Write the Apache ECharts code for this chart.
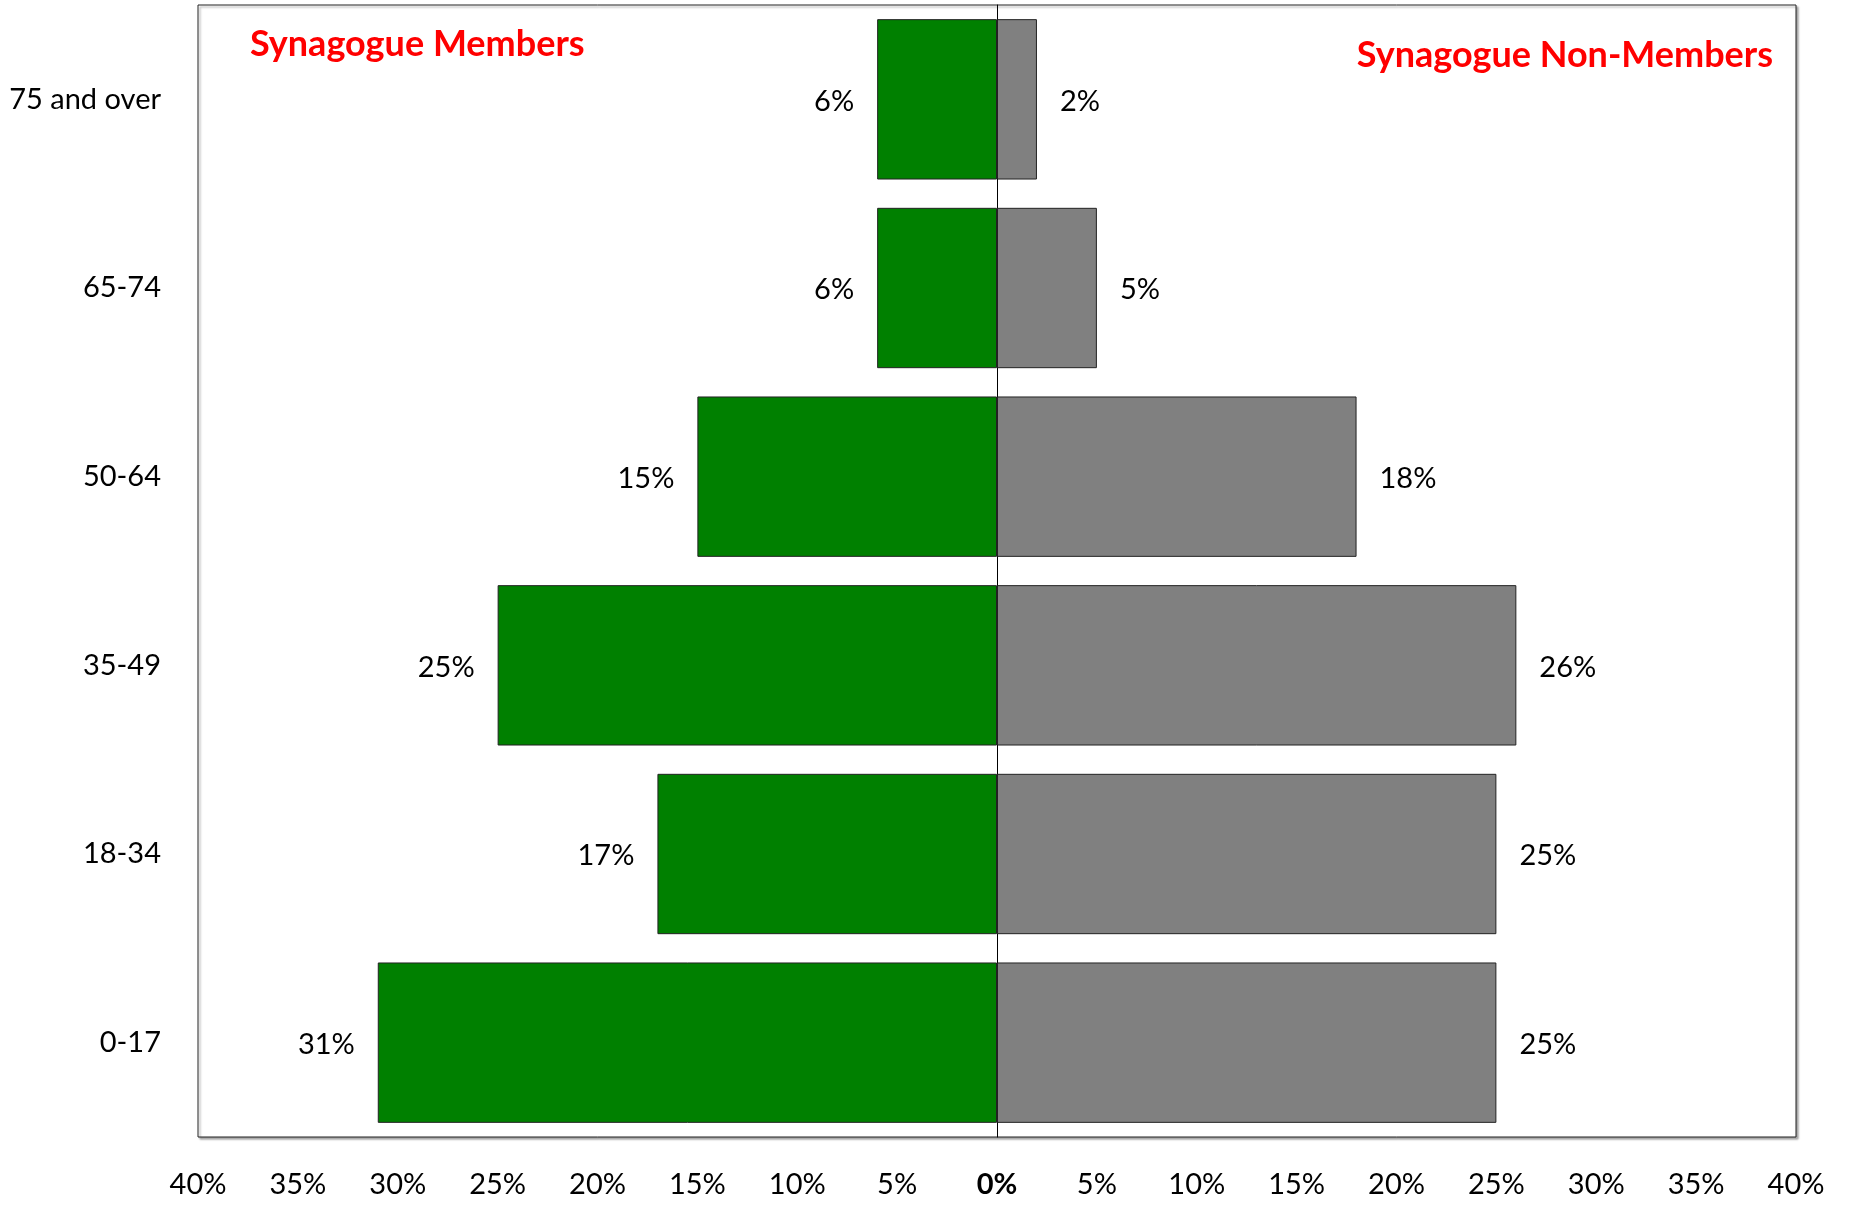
<!DOCTYPE html>
<html>
<head>
<meta charset="utf-8">
<script src="https://cdn.jsdelivr.net/npm/echarts@6/dist/echarts.min.js"></script>
<style>
  html, body { margin: 0; padding: 0; background: #fff; }
  #main { width: 1849px; height: 1209px; }
</style>
</head>
<body>
<div id="main"></div>
<script>
// age groups, bottom to top
const ageGroups = ['0-17', '18-34', '35-49', '50-64', '65-74', '75 and over']
// percent of each group
const members = [31, 17, 25, 15, 6, 6]
const nonMembers = [25, 25, 26, 18, 5, 2]
const xTicks = [-40, -35, -30, -25, -20, -15, -10, -5, 0, 5, 10, 15, 20, 25, 30, 35, 40]

const fontFam = 'Lato, "Open Sans", sans-serif'
const chart = echarts.init(document.getElementById('main'))

const option = {
  animation: false,
  title: [
    {
      text: 'Synagogue Members',
      left: 245, top: 21,
      textStyle: { color: '#ff0000', fontSize: 36, fontWeight: 'bold', fontFamily: fontFam }
    },
    {
      text: 'Synagogue Non-Members',
      right: 71, top: 32,
      textStyle: { color: '#ff0000', fontSize: 36, fontWeight: 'bold', fontFamily: fontFam }
    }
  ],
  grid: {
    left: 198, right: 53, top: 5, bottom: 72,
    show: true, borderColor: '#222', borderWidth: 1,
    shadowColor: 'rgba(0,0,0,0.35)', shadowOffsetX: 2, shadowOffsetY: 2, shadowBlur: 2,
    backgroundColor: '#fff'
  },
  xAxis: {
    type: 'value',
    min: xTicks[0], max: xTicks[xTicks.length - 1], interval: 5,
    splitLine: { show: false },
    axisLine: { show: false },
    axisTick: { show: false },
    axisLabel: {
      margin: 33,
      fontSize: 29, color: '#000', fontFamily: fontFam,
      formatter: v => v === 0 ? '{b|0%}' : Math.abs(v) + '%',
      rich: { b: { fontSize: 29, fontWeight: 'bold', color: '#000', fontFamily: fontFam } }
    }
  },
  yAxis: {
    type: 'category',
    data: ageGroups,
    axisLine: { onZero: true, lineStyle: { color: '#000', width: 1 } },
    axisTick: { show: false },
    axisLabel: {
      margin: 37,
      fontSize: 29, color: '#000', fontFamily: fontFam
    }
  },
  series: [
    {
      name: 'Synagogue Members',
      type: 'bar',
      stack: 'total',
      barCategoryGap: '15%',
      data: members.map(v => -v),
      itemStyle: { color: '#008000', borderColor: '#222', borderWidth: 1 },
      label: {
        show: true, position: 'left', distance: 23, offset: [0, 2],
        fontSize: 29, color: '#000', fontFamily: fontFam,
        formatter: p => Math.abs(p.value) + '%'
      }
    },
    {
      name: 'Synagogue Non-Members',
      type: 'bar',
      stack: 'total',
      barCategoryGap: '15%',
      data: nonMembers,
      itemStyle: { color: '#808080', borderColor: '#222', borderWidth: 1 },
      label: {
        show: true, position: 'right', distance: 23, offset: [0, 2],
        fontSize: 29, color: '#000', fontFamily: fontFam,
        formatter: p => p.value + '%'
      }
    }
  ]
}

chart.setOption(option)
</script>
</body>
</html>
